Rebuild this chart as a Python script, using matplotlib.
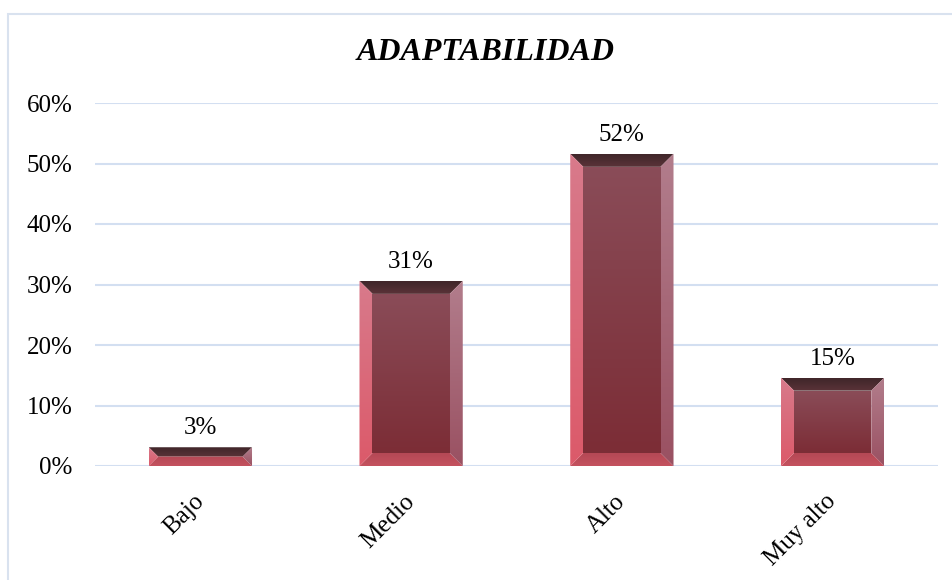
import numpy as np
import matplotlib.pyplot as plt
from matplotlib.patches import Polygon, Rectangle
from matplotlib.colors import LinearSegmentedColormap

# chart data
categories = ['Bajo', 'Medio', 'Alto', 'Muy alto']
values = [3.1, 30.6, 51.6, 14.6]
bar_labels = ['3%', '31%', '52%', '15%']
yticks = [0, 10, 20, 30, 40, 50, 60]
ytick_labels = ['0%', '10%', '20%', '30%', '40%', '50%', '60%']

plt.rcParams['font.family'] = ['Liberation Serif', 'DejaVu Serif']

W, H = 953, 580
fig = plt.figure(figsize=(W / 100, H / 100), dpi=100)
ax_l, ax_b, ax_w, ax_h = 95, 114, 843, 363
ax = fig.add_axes([ax_l / W, ax_b / H, ax_w / W, ax_h / H])

xlim = (-0.5, 3.5)
ylim = (0, 60)
x = np.arange(len(categories))
bars = ax.bar(x, values, width=0.49, color='none', zorder=3)

# data units per pixel
px_x = (xlim[1] - xlim[0]) / ax_w
px_y = (ylim[1] - ylim[0]) / ax_h


def fill_gradient(pts, c_top, c_bot, z=4):
    poly = Polygon(pts, closed=True, facecolor='none', edgecolor='none', zorder=z)
    ax.add_patch(poly)
    xs = [p[0] for p in pts]
    ys = [p[1] for p in pts]
    cmap = LinearSegmentedColormap.from_list('g', [c_bot, c_top])
    img = ax.imshow(np.linspace(0, 1, 64).reshape(-1, 1), cmap=cmap, origin='lower',
                    extent=(min(xs), max(xs), min(ys), max(ys)), aspect='auto',
                    interpolation='bicubic', zorder=z)
    img.set_clip_path(poly)


# bevelled bars
for r in bars:
    x0 = r.get_x()
    x1 = x0 + r.get_width()
    h = r.get_height()
    b = min(13, h / px_y / 2)
    bx, by = b * px_x, b * px_y
    # face
    fill_gradient([(x0 + bx, by), (x1 - bx, by), (x1 - bx, h - by), (x0 + bx, h - by)],
                  '#8a4c58', '#7c2d36')
    # top
    fill_gradient([(x0, h), (x1, h), (x1 - bx, h - by), (x0 + bx, h - by)],
                  '#40262a', '#5a3338')
    # bottom
    fill_gradient([(x0, 0), (x1, 0), (x1 - bx, by), (x0 + bx, by)],
                  '#b54855', '#c4525f')
    # left
    fill_gradient([(x0, 0), (x0 + bx, by), (x0 + bx, h - by), (x0, h)],
                  '#d87a8b', '#dc5a6a')
    # right
    fill_gradient([(x1, 0), (x1, h), (x1 - bx, h - by), (x1 - bx, by)],
                  '#b27d8c', '#9a5162')

ax.set_xlim(*xlim)
ax.set_ylim(*ylim)

for xi, v, lab in zip(x, values, bar_labels):
    ax.text(xi, v + 8 * px_y, lab, ha='center', va='bottom', fontsize=18, zorder=5)

ax.set_yticks(yticks, ytick_labels, fontsize=18)
ax.set_xticks(x, categories, fontsize=18, rotation=45, ha='right', va='center',
              rotation_mode='anchor')
ax.tick_params(axis='y', length=0, pad=16)
ax.tick_params(axis='x', length=0, pad=23)
ax.grid(axis='y', color='#d3dff1', lw=1.5, zorder=0)
ax.set_axisbelow(True)
for s in ax.spines.values():
    s.set_visible(False)

fig.text(486 / W, 1 - 53 / H, 'ADAPTABILIDAD', ha='center', va='center',
         fontsize=23, fontweight='bold', fontstyle='italic')

fig.add_artist(Rectangle((8 / W, -0.01), 1, 1 - 14 / H + 0.01, transform=fig.transFigure,
                         fill=False, edgecolor='#d9e2ef', lw=1.5))

fig.savefig('out.png', dpi=100)
